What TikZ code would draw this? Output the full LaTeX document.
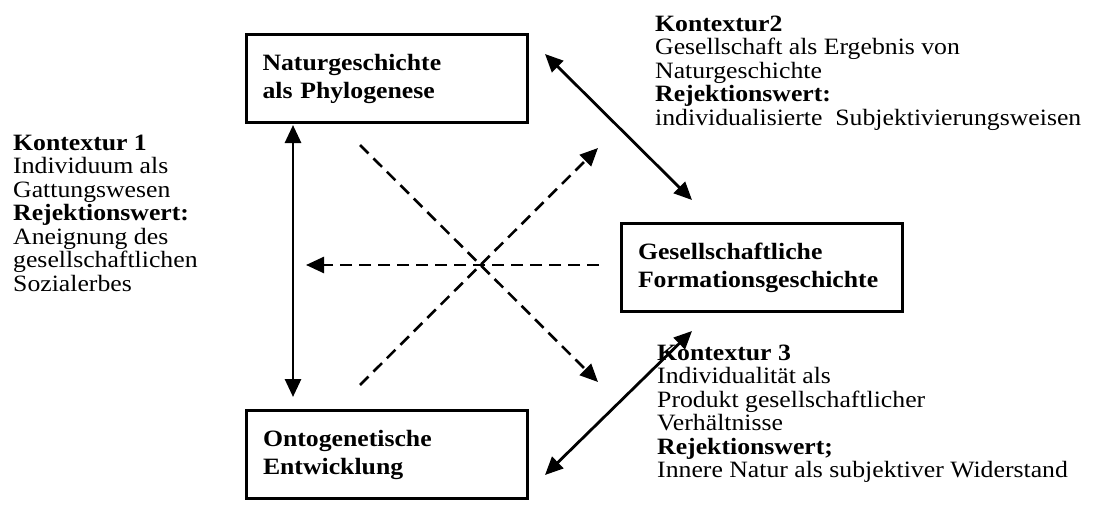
\documentclass[tikz,border=0pt]{standalone}
\usepackage{fontspec}
\setmainfont{Liberation Serif}[FakeStretch=1.1]
\usetikzlibrary{arrows.meta,positioning}

\begin{document}
\begin{tikzpicture}[x=1pt, y=-1pt,
  box/.style={draw, line width=3pt, minimum width=281pt, minimum height=88pt,
    inner xsep=16pt, text width=248pt, align=left, font=\fontsize{23.4}{28}\selectfont\bfseries},
  ktext/.style={anchor=north west, inner sep=0pt, align=left, font=\fontsize{23.4}{23.5}\selectfont},
  tip/.style={-{Triangle[length=18pt,width=16pt]}},
  bothway/.style={{Triangle[length=18pt,width=16pt]}-{Triangle[length=18pt,width=16pt]}, line width=2.8pt},
  dashline/.style={tip, line width=2.6pt, dash pattern=on 12pt off 7pt}]
\useasboundingbox (0,0) rectangle (1094,516);

\node[box] (natur) at (386.5,79) {Naturgeschichte\\als Phylogenese};
\node[box] (gesell) at (762,267.5) {Gesellschaftliche\\Formationsgeschichte};
\node[box] (onto) at (387,454.5) {Ontogenetische\\Entwicklung};

\node[ktext] (kont1) at (13,134.5) {\textbf{Kontextur 1}\\Individuum als\\Gattungswesen\\\textbf{Rejektionswert:}\\Aneignung des\\gesellschaftlichen\\Sozialerbes};
\node[ktext] (kont2) at (655,15.5) {\textbf{Kontextur2}\\Gesellschaft als Ergebnis von\\Naturgeschichte\\\textbf{Rejektionswert:}\\individualisierte\ \ Subjektivierungsweisen};
\node[ktext] (kont3) at (657,344.5) {\textbf{Kontextur 3}\\Individualit\"at als\\Produkt gesellschaftlicher\\Verh\"altnisse\\\textbf{Rejektionswert;}\\Innere Natur als subjektiver Widerstand};

% solid double arrows
\coordinate (v1) at (293,125);
\coordinate (v2) at (293,397);
\draw[bothway] (v1) -- (v2);
\coordinate (r1) at (545,54);
\coordinate (r2) at (692,200);
\draw[bothway] (r1) -- (r2);
\coordinate (s1) at (545,475);
\coordinate (s2) at (692,331);
\draw[bothway] (s1) -- (s2);

% dashed arrows
\coordinate (d1) at (360,145);
\coordinate (d2) at (598,382);
\draw[dashline] (d1) -- (d2);
\coordinate (e1) at (360,385);
\coordinate (e2) at (598,148);
\draw[dashline] (e1) -- (e2);
\coordinate (h1) at (599,265);
\coordinate (h2) at (306,265);
\draw[dashline] (h1) -- (h2);
\end{tikzpicture}
\end{document}
